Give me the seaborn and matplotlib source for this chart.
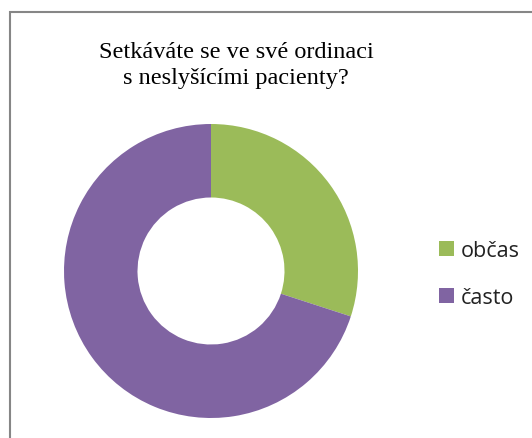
import matplotlib
matplotlib.use("Agg")
import matplotlib.pyplot as plt
from matplotlib.patches import Rectangle
import seaborn as sns

labels = ["občas", "často"]
values = [30, 70]
colors = ["#9BBB59", "#8064A2"]
title = "Setkáváte se ve své ordinaci\ns neslyšícími pacienty?"

sns.set_theme(style="white")
plt.rcParams["font.family"] = ["Open Sans", "DejaVu Sans"]

W, H = 532, 439
fig = plt.figure(figsize=(W / 100, H / 100), dpi=100)
fig.patch.set_facecolor("white")

# chart border (extends beyond right/bottom edge)
fig.patches.append(Rectangle((10 / W, -0.1), 1.2, 1 - 13 / H + 0.1,
                             transform=fig.transFigure, fill=False,
                             edgecolor="#868686", linewidth=1.5))

cx, cy, r = 211, 272, 147
ax = fig.add_axes([(cx - r) / W, (H - cy - r) / H, 2 * r / W, 2 * r / H])
wedges, _ = ax.pie(values, colors=colors, startangle=90, counterclock=False,
                   radius=1, wedgeprops=dict(width=0.5, linewidth=0))
ax.set_xlim(-1, 1)
ax.set_ylim(-1, 1)
ax.set_aspect("equal")
ax.axis("off")

fig.text(236 / W, 1 - 42 / H, title, ha="center", va="top",
         fontsize=17.5, family="Liberation Serif", color="#000000",
         linespacing=1.3)

fig.legend(wedges, labels, loc="upper left",
           bbox_to_anchor=(420 / W, 1 - 222 / H), frameon=False,
           fontsize=15.5, handlelength=0.7, handleheight=0.7,
           handletextpad=0.3, labelspacing=1.2, labelcolor="#222222")

fig.savefig("out.png", dpi=100)
